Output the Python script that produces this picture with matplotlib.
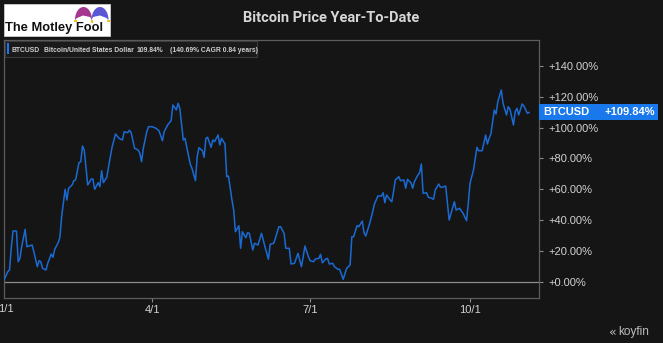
import numpy as np
import pandas as pd
import matplotlib
matplotlib.use("Agg")
import matplotlib.pyplot as plt
import matplotlib.dates as mdates
from matplotlib.patches import Rectangle, Polygon
from matplotlib.transforms import blended_transform_factory

# ---------------- data ----------------
year_start = "2023-01-01"
day_offsets = [5, 7, 8, 9, 10, 12, 13, 14, 15, 17, 18, 21, 22, 24, 25, 26, 27, 29, 30, 32,
               33, 34, 36, 37, 38, 40, 41, 42, 44, 45, 46, 48, 49, 50, 51, 53, 55, 56, 57, 59,
               60, 61, 62, 64, 65, 67, 69, 71, 73, 74, 76, 77, 78, 80, 82, 83, 84, 85, 87, 88,
               90, 92, 94, 96, 97, 99, 101, 102, 104, 105, 106, 108, 109, 110, 112, 113, 115, 116, 117, 119,
               120, 121, 122, 124, 125, 126, 128, 129, 130, 132, 133, 134, 136, 137, 138, 140, 141, 142, 144, 145,
               146, 148, 149, 151, 153, 155, 157, 158, 160, 161, 163, 164, 166, 167, 169, 170, 172, 174, 176, 177,
               178, 180, 181, 183, 184, 186, 187, 188, 190, 191, 192, 194, 195, 197, 198, 200, 202, 204, 205, 206,
               208, 209, 211, 212, 213, 215, 217, 218, 220, 222, 223, 224, 225, 227, 228, 229, 230, 232, 233, 235,
               236, 237, 239, 240, 241, 243, 244, 245, 246, 248, 249, 251, 252, 253, 255, 256, 257, 259, 260, 261,
               264, 265, 267, 269, 271, 272, 273, 275, 277, 278, 280, 282, 283, 284, 285, 287, 288, 289, 291, 292,
               294, 295, 296, 298, 299, 300, 301, 303, 304, 306, 307]
pct_change = [1.43, 6.37, 7.47, 21.57, 32.81, 32.81, 12.87, 15.07, 22.61, 33.92, 22.61, 23.72, 19.36, 9.62, 13.52, 12.87, 8.58, 7.47, 11.83, 17.87,
              15.72, 20.92, 25.21, 28.72, 42.11, 59.91, 52.96, 60.56, 62.70, 65.50, 65.95, 77.19, 77.84, 88.04, 85.45, 62.70, 66.60, 66.60, 59.91, 64.20,
              61.60, 71.99, 64.20, 67.71, 74.59, 87.20, 95.84, 93.05, 91.94, 97.34, 96.69, 98.25, 96.69, 86.55, 85.45, 83.30, 77.84, 86.55, 97.34, 100.58,
              100.58, 99.74, 97.99, 91.49, 97.34, 101.69, 104.48, 114.68, 111.44, 115.79, 112.54, 91.94, 93.05, 87.20, 76.35, 73.55, 65.50, 81.09, 86.94, 84.99,
              80.70, 93.05, 93.70, 87.20, 91.94, 90.84, 95.19, 88.69, 93.05, 89.34, 68.10, 68.55, 52.96, 46.46, 32.36, 36.26, 21.57, 32.36, 28.46, 31.71,
              31.32, 20.47, 24.82, 23.72, 31.32, 22.61, 14.43, 24.17, 24.82, 28.07, 35.61, 35.61, 31.32, 21.57, 21.57, 11.37, 11.83, 18.32, 9.62, 16.11,
              23.07, 16.11, 13.52, 12.87, 14.62, 15.07, 17.67, 12.22, 14.62, 15.07, 11.37, 11.83, 9.62, 7.93, 7.93, 1.43, 8.58, 10.72, 29.11, 29.11,
              36.26, 35.61, 39.31, 31.71, 29.56, 36.71, 45.35, 50.36, 55.56, 55.56, 57.70, 51.20, 56.21, 52.96, 51.85, 58.35, 65.95, 68.10, 65.50, 65.95,
              60.56, 66.41, 64.20, 60.56, 64.85, 69.20, 70.70, 76.35, 57.31, 57.70, 54.71, 54.06, 53.41, 59.45, 63.35, 61.21, 61.21, 62.05, 50.81, 39.96,
              51.85, 46.46, 47.56, 44.31, 39.51, 50.81, 63.81, 72.45, 87.20, 84.99, 84.99, 95.19, 89.34, 93.05, 95.84, 111.44, 108.84, 116.83, 124.43, 115.79,
              108.19, 113.58, 111.89, 101.69, 110.33, 112.54, 108.19, 115.34, 114.04, 109.29, 109.84]

ticker = "BTCUSD"
series_name = "Bitcoin/United States Dollar"
total_return = 109.84
cagr = 140.69
years = 0.84
y_ticks = [0, 20, 40, 60, 80, 100, 120, 140]
x_tick_dates = ["2023-04-01", "2023-07-01", "2023-10-01"]
x_tick_labels = ["4/1", "7/1", "10/1"]
first_label = "1/1"
title = "Bitcoin Price Year-To-Date"

# ---------------- styling ----------------
BG = "#151515"
LINE = "#1a6ad4"
LABEL_BLUE = "#1878ec"
TXT = "#d2d2d2"
SPINE = "#5c5c5c"
W, H = 663, 343

plt.rcParams["font.family"] = ["Liberation Sans", "DejaVu Sans"]

fig = plt.figure(figsize=(W / 100, H / 100), dpi=100, facecolor=BG)
ax = fig.add_axes([4 / W, 1 - 298 / H, 535 / W, 258 / H])
ax.set_facecolor(BG)

start = pd.Timestamp(year_start)
dates = start + pd.to_timedelta(day_offsets, unit="D")
ax.plot(dates, pct_change, color=LINE, lw=1.1, solid_joinstyle="round", zorder=3)
ax.axhline(0, color="#8c8c8c", lw=0.9, zorder=2)

x0 = mdates.date2num(start)
ax.set_xlim(x0 + 4.83, x0 + 312.7)
ax.set_ylim(-10.7, 156.9)

ax.set_xticks([mdates.date2num(pd.Timestamp(d)) for d in x_tick_dates])
ax.set_xticklabels(x_tick_labels)
ax.yaxis.tick_right()
ax.set_yticks(y_ticks)
ax.set_yticklabels([f"+{v:.2f}%" for v in y_ticks])
ax.tick_params(axis="both", colors="#8a8a8a", labelcolor=TXT, labelsize=8, length=3, width=0.8)
ax.tick_params(axis="y", pad=4)
ax.tick_params(axis="x", pad=2)
for s in ax.spines.values():
    s.set_color(SPINE)
    s.set_linewidth(0.9)

# first x label (1/1), partly cut by the figure edge as in the source
fig.text(13.5 / W, 1 - 309 / H, first_label, ha="right", va="center", color=TXT, fontsize=8)

# last value label on right axis
last = pct_change[-1]
bt = blended_transform_factory(ax.transAxes, ax.transData)
box_h = 16 / 1.539
ax.add_patch(Rectangle((1.0, last - box_h / 2), 119 / 535, box_h, transform=bt,
                       facecolor=LABEL_BLUE, edgecolor="none", clip_on=False, zorder=6))
ax.text(1.0 + 4 / 535, last, ticker, transform=bt, ha="left", va="center",
        color="white", fontsize=8, fontweight="bold", zorder=7, clip_on=False)
ax.text(1.0 + 116 / 535, last, f"+{total_return:.2f}%", transform=bt, ha="right", va="center",
        color="white", fontsize=8, fontweight="bold", zorder=7, clip_on=False)

# overlay in pixel coords for decorations
ov = fig.add_axes([0, 0, 1, 1], zorder=10)
ov.set_xlim(0, W)
ov.set_ylim(H, 0)
ov.axis("off")

# legend box
ov.add_patch(Rectangle((5, 40.5), 252, 16.5, facecolor="#1a1a1a", edgecolor="#3c3c3c", lw=0.8))
ov.add_patch(Rectangle((6.5, 43), 2, 11, facecolor=LABEL_BLUE, edgecolor="none"))
leg_kw = dict(va="center", ha="left", color="#cfcfcf", fontsize=4.9, fontweight="bold")
ov.text(11.5, 50.5, ticker, **leg_kw)
ov.text(44, 50.5, series_name, **leg_kw)
ov.text(136.5, 50.5, f"{total_return:.2f}%", **leg_kw)
ov.text(169.5, 50.5, f"({cagr:.2f}% CAGR {years:.2f} years)", **leg_kw)

# title
fig.text(0.5, 1 - 18 / H, title, ha="center", va="center", color="#d6d6d6",
         fontsize=10.5, fontweight="bold", family=["Roboto", "DejaVu Sans"])

# Motley Fool logo
ov.add_patch(Rectangle((4, 4), 106, 32, facecolor="white", edgecolor="#cccccc", lw=0.6))
ov.text(5, 28.5, "The Motley Fool", ha="left", va="center", color="#111111",
        fontsize=9.3, fontweight="bold")
t = np.linspace(0, np.pi, 40)
purple = np.column_stack([83.5 - 8.5 * np.cos(t), 20 - 13 * np.sin(t)])
purple = np.vstack([purple, [[90, 17], [83, 15.5], [77, 18]]])
ov.add_patch(Polygon(purple, closed=True, facecolor="#a4368f", edgecolor="none"))
blue = np.column_stack([100 - 8.5 * np.cos(t), 20 - 13 * np.sin(t)])
blue = np.vstack([blue, [[106.5, 18], [100, 15.5], [93, 17]]])
ov.add_patch(Polygon(blue, closed=True, facecolor="#5a56d4", edgecolor="none"))
for cx, cy in [(75.5, 21), (91.8, 21.5), (108.3, 21)]:
    ov.add_patch(Rectangle((cx - 1.2, cy - 1.2), 2.4, 2.4, facecolor="#f0c419", edgecolor="none"))

# koyfin mark
ov.text(609, 332, "\u00ab", ha="left", va="center", color="#bdbdbd", fontsize=9, family=["DejaVu Sans"])
ov.text(618, 332, "koyfin", ha="left", va="center", color="#bdbdbd", fontsize=8.5)

fig.savefig("out.png", dpi=100, facecolor=BG)
